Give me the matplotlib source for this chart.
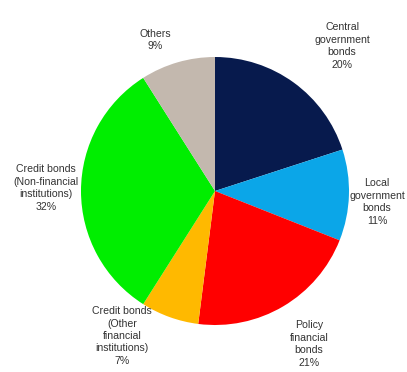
import matplotlib
matplotlib.use("Agg")
import matplotlib.pyplot as plt

categories = ["Central\ngovernment\nbonds", "Local\ngovernment\nbonds", "Policy\nfinancial\nbonds",
              "Credit bonds\n(Other\nfinancial\ninstitutions)", "Credit bonds\n(Non-financial\ninstitutions)",
              "Others"]
values = [20, 11, 21, 7, 32, 9]
colors = ["#071a4d", "#0ba6e8", "#ff0000", "#ffb900", "#00ee00", "#c3b8ae"]
# label anchor positions in pixel coordinates (x, y from top)
label_pos = [(342, 46), (377, 202), (309, 344), (122, 336), (46, 188), (155, 40)]

W, H = 407, 372
fig = plt.figure(figsize=(W / 100, H / 100), dpi=100)
ax = fig.add_axes([0, 0, 1, 1])
ax.set_xlim(0, W)
ax.set_ylim(0, H)
ax.axis("off")

ax.pie(values, colors=colors, startangle=90, counterclock=False,
       center=(215, H - 191), radius=134, frame=True,
       wedgeprops=dict(linewidth=0))
ax.set_xlim(0, W)
ax.set_ylim(0, H)
ax.set_aspect("equal")
ax.axis("off")

for cat, v, (x, y) in zip(categories, values, label_pos):
    ax.text(x, H - y, f"{cat}\n{v}%", ha="center", va="center",
            fontsize=7.6, family="Liberation Sans", color="#333333",
            linespacing=1.3)

fig.savefig("out.png", dpi=100)
